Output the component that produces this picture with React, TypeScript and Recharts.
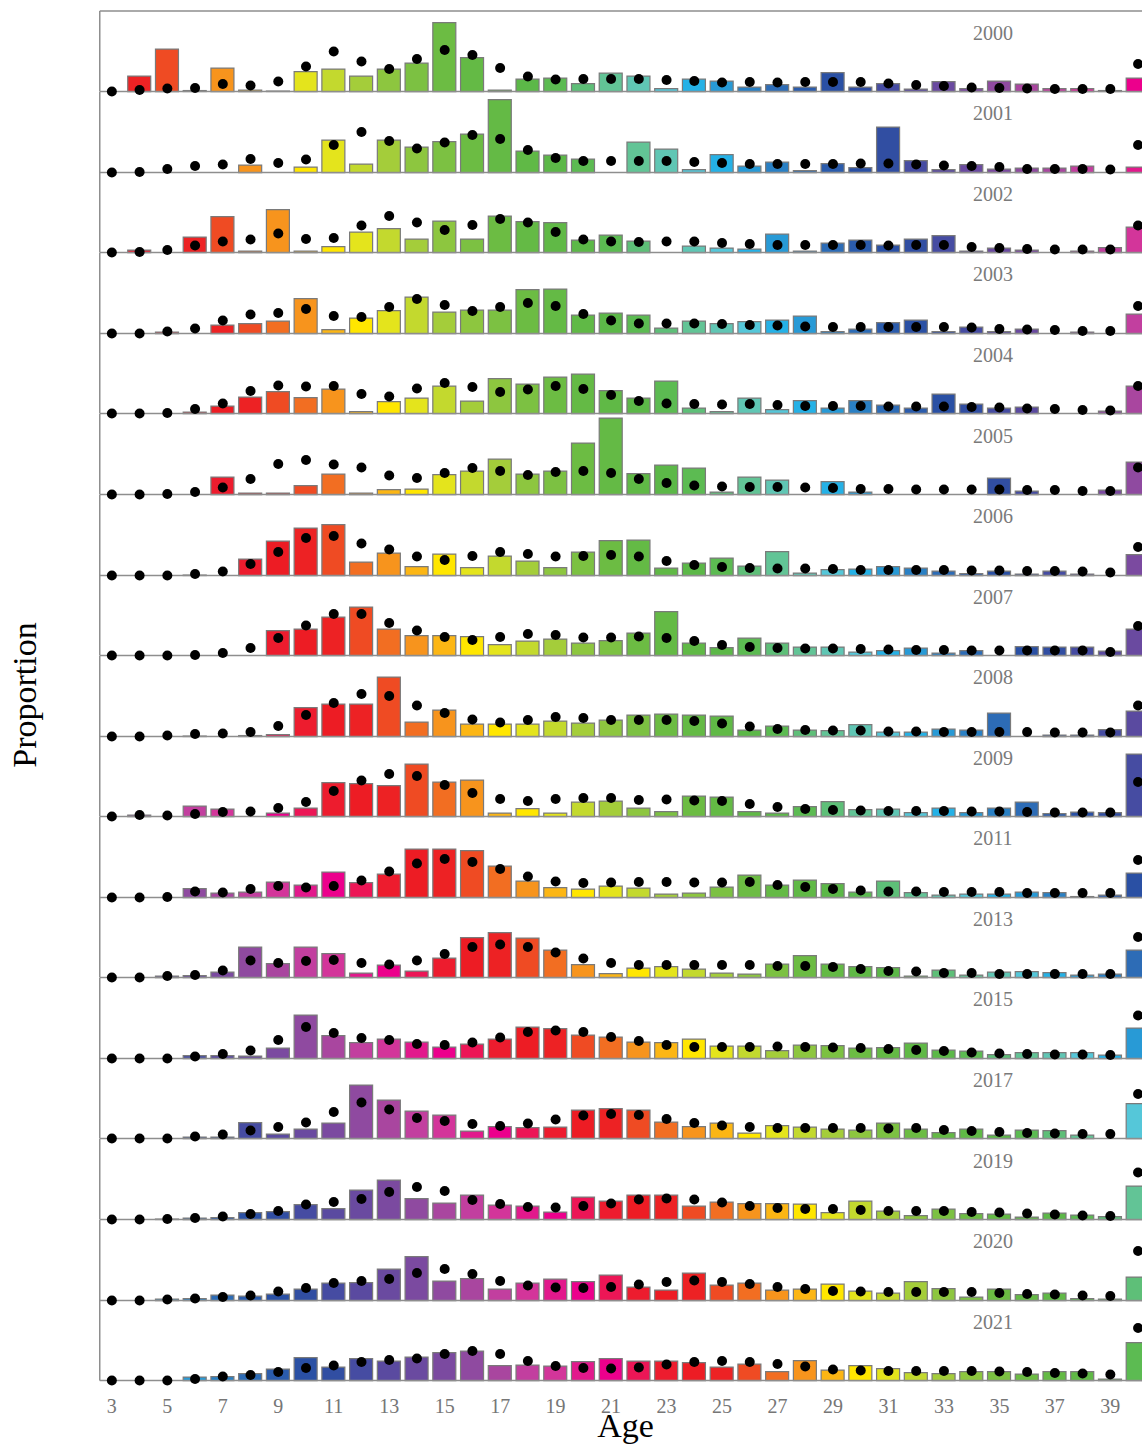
import React from 'react';
import { ComposedChart, Bar, Scatter, XAxis, YAxis, Cell, ReferenceLine } from 'recharts';

// ---------- data (proportions in %) ----------
const ages = [3, 4, 5, 6, 7, 8, 9, 10, 11, 12, 13, 14, 15, 16, 17, 18, 19, 20, 21, 22, 23, 24, 25, 26, 27, 28, 29, 30, 31, 32, 33, 34, 35, 36, 37, 38, 39, 40];
const ageTicks = [3, 5, 7, 9, 11, 13, 15, 17, 19, 21, 23, 25, 27, 29, 31, 33, 35, 37, 39];
const years = [2000, 2001, 2002, 2003, 2004, 2005, 2006, 2007, 2008, 2009, 2011, 2013, 2015, 2017, 2019, 2020, 2021];

const bars2000 = [0, 3.1, 8.5, 0.2, 4.7, 0.3, 0.1, 4.0, 4.5, 3.1, 4.5, 5.7, 13.8, 6.8, 0.3, 2.5, 2.7, 1.6, 3.7, 3.1, 0.6, 2.5, 2.1, 0.9, 1.4, 0.9, 3.8, 0.9, 1.6, 0.5, 2.0, 0.6, 2.1, 1.5, 0.6, 0.6, 0.2, 2.7];
const dots2000 = [0, 0.3, 0.6, 0.7, 1.5, 1.2, 2.0, 5.0, 8.0, 6.0, 4.5, 6.5, 8.3, 7.3, 4.7, 3.0, 2.4, 2.5, 2.5, 2.5, 2.3, 2.1, 1.8, 1.9, 1.8, 1.9, 1.9, 1.9, 1.6, 1.3, 1.1, 0.8, 0.7, 0.6, 0.5, 0.5, 0.5, 5.5];
const bars2001 = [0, 0, 0, 0, 0, 1.5, 0, 1.1, 6.5, 1.7, 6.5, 5.1, 6.2, 7.7, 14.6, 4.3, 3.5, 2.7, 0, 6.1, 4.7, 0.6, 3.6, 1.3, 2.1, 0.4, 1.8, 1.0, 9.1, 2.4, 0.6, 1.6, 0.7, 0.9, 0.9, 1.3, 0, 1.1];
const dots2001 = [0, 0.1, 0.7, 1.3, 1.6, 2.7, 1.9, 2.6, 5.5, 8.1, 6.3, 4.8, 6.0, 7.5, 6.7, 4.5, 2.9, 2.3, 2.3, 2.3, 2.3, 2.1, 1.9, 1.7, 1.7, 1.7, 1.7, 1.8, 1.8, 1.6, 1.4, 1.3, 1.1, 0.7, 0.7, 0.7, 0.6, 5.5];
const bars2002 = [0, 0.5, 0, 3.1, 7.2, 0.3, 8.6, 0.3, 1.2, 4.1, 4.8, 2.7, 6.3, 2.7, 7.3, 6.2, 6.0, 2.5, 3.5, 2.3, 0, 1.3, 0.9, 0.7, 3.7, 0.3, 1.9, 2.5, 1.5, 2.7, 3.4, 0.3, 0.9, 0.5, 0, 0.3, 1.0, 5.1];
const dots2002 = [0, 0.1, 0.5, 1.4, 2.2, 2.6, 3.8, 2.7, 2.9, 5.4, 7.3, 6.0, 4.5, 5.5, 6.7, 6.0, 4.1, 2.6, 2.2, 2.1, 2.2, 2.2, 1.9, 1.7, 1.5, 1.5, 1.5, 1.5, 1.4, 1.5, 1.5, 1.1, 0.9, 0.7, 0.6, 0.6, 0.6, 5.4];
const bars2003 = [0, 0, 0.3, 0, 1.7, 2.0, 2.5, 7.0, 0.8, 3.1, 4.6, 7.3, 4.3, 4.7, 4.7, 8.8, 8.9, 3.7, 4.1, 3.7, 1.1, 2.5, 2.0, 2.4, 2.7, 3.5, 0.4, 0.9, 2.2, 2.7, 0.4, 1.3, 0.4, 0.9, 0, 0.3, 0, 3.9];
const dots2003 = [0, 0, 0.4, 1.0, 2.6, 3.8, 4.1, 4.9, 3.5, 3.3, 5.3, 6.9, 5.7, 4.5, 5.3, 6.1, 5.5, 3.9, 2.6, 2.0, 2.0, 2.0, 1.9, 1.7, 1.6, 1.4, 1.3, 1.3, 1.3, 1.3, 1.3, 1.2, 0.9, 0.8, 0.7, 0.5, 0.5, 5.5];
const bars2004 = [0, 0, 0, 0.3, 1.5, 3.3, 4.4, 3.2, 4.9, 0.4, 2.4, 3.1, 5.5, 2.5, 7.0, 5.9, 7.3, 7.9, 4.6, 3.1, 6.5, 1.1, 0.4, 3.1, 0.8, 2.6, 1.1, 2.6, 1.7, 1.1, 3.9, 1.9, 1.1, 1.3, 0, 0, 0.5, 5.5];
const dots2004 = [0, 0, 0.1, 0.9, 2.0, 4.5, 5.6, 5.4, 5.5, 3.9, 3.4, 5.0, 6.1, 5.3, 4.3, 4.8, 5.5, 4.9, 3.7, 2.5, 2.0, 1.9, 1.8, 1.9, 1.7, 1.5, 1.5, 1.5, 1.4, 1.4, 1.4, 1.3, 1.2, 1.0, 0.9, 0.7, 0.6, 5.5];
const bars2005 = [0, 0, 0, 0, 3.5, 0.3, 0.3, 1.8, 4.1, 0.3, 1.0, 1.1, 4.0, 4.7, 7.1, 4.1, 4.7, 10.3, 15.3, 4.2, 5.9, 5.3, 0.5, 3.5, 2.9, 0, 2.6, 0.5, 0, 0, 0, 0, 3.3, 0.7, 0, 0, 0.9, 6.5];
const dots2005 = [0, 0, 0.1, 0.5, 1.4, 3.1, 6.1, 6.9, 6.0, 5.4, 3.8, 3.3, 4.3, 5.3, 4.7, 3.9, 4.5, 4.7, 4.3, 3.1, 2.3, 1.8, 1.6, 1.5, 1.5, 1.4, 1.3, 1.1, 1.1, 1.0, 1.0, 1.0, 1.0, 0.9, 0.9, 0.7, 0.7, 5.4];
const bars2006 = [0, 0, 0, 0.1, 0, 3.3, 6.9, 9.5, 10.2, 2.7, 4.5, 1.8, 4.3, 1.6, 3.9, 2.9, 1.6, 4.7, 7.0, 7.1, 1.5, 2.5, 3.5, 1.9, 4.8, 0.5, 1.2, 1.3, 1.8, 1.5, 0.9, 0.4, 0.9, 0.3, 0.9, 0.3, 0, 4.2];
const dots2006 = [0, 0, 0, 0.3, 0.8, 2.3, 4.7, 7.5, 7.9, 6.4, 5.2, 3.8, 3.1, 3.9, 4.7, 4.3, 3.8, 3.9, 4.1, 3.8, 2.9, 2.1, 1.7, 1.5, 1.4, 1.4, 1.3, 1.1, 1.1, 1.1, 1.1, 1.0, 1.0, 0.9, 0.9, 0.8, 0.6, 5.7];
const bars2007 = [0, 0, 0, 0, 0, 0, 5.0, 5.3, 7.7, 9.7, 5.3, 4.0, 4.0, 3.8, 2.2, 2.9, 3.3, 2.5, 3.0, 4.5, 8.8, 2.5, 1.6, 3.5, 2.5, 1.7, 1.7, 0.7, 1.0, 1.5, 0.5, 1.0, 0, 1.8, 1.7, 1.7, 0.9, 5.3];
const dots2007 = [0, 0, 0, 0.1, 0.5, 1.5, 3.5, 6.0, 8.3, 8.3, 6.5, 5.0, 3.7, 3.1, 3.7, 4.3, 4.1, 3.6, 3.6, 3.8, 3.5, 2.9, 2.1, 1.7, 1.5, 1.4, 1.4, 1.3, 1.2, 1.1, 1.1, 1.0, 1.0, 1.0, 1.0, 1.0, 0.7, 5.9];
const bars2008 = [0, 0, 0, 0.1, 0, 0.2, 0.4, 5.8, 6.5, 6.5, 11.9, 2.9, 5.3, 2.5, 2.5, 2.5, 3.1, 2.7, 3.3, 4.3, 4.5, 4.3, 4.1, 1.3, 2.1, 1.3, 1.2, 2.4, 0.9, 0.9, 1.5, 1.3, 4.7, 0, 0.3, 0.3, 1.4, 5.1];
const dots2008 = [0, 0, 0.2, 0.5, 0.6, 0.9, 2.1, 4.3, 6.7, 8.5, 8.1, 6.2, 4.7, 3.4, 2.8, 3.3, 3.9, 3.7, 3.3, 3.3, 3.3, 3.1, 2.6, 2.0, 1.5, 1.3, 1.2, 1.2, 1.0, 1.0, 0.9, 0.9, 0.9, 0.9, 0.8, 0.8, 0.8, 6.2];
const bars2009 = [0, 0.3, 0, 2.1, 1.5, 0, 0.7, 1.7, 6.8, 6.6, 6.2, 10.5, 6.9, 7.3, 0.7, 1.6, 0.7, 2.9, 3.1, 1.7, 1.0, 4.1, 3.9, 1.0, 0.7, 2.0, 3.0, 1.4, 1.5, 0.8, 1.7, 0.8, 1.7, 2.9, 0.6, 0.9, 0.8, 12.5];
const dots2009 = [0, 0.3, 0.2, 0.5, 0.9, 1.0, 1.7, 2.9, 5.1, 7.2, 8.5, 8.1, 6.3, 4.7, 3.5, 3.1, 3.5, 3.7, 3.7, 3.3, 3.4, 3.2, 3.1, 2.5, 1.9, 1.5, 1.3, 1.2, 1.1, 1.1, 1.1, 1.0, 1.0, 0.9, 0.8, 0.8, 0.8, 6.9];
const bars2011 = [0, 0, 0, 1.8, 0.9, 1.1, 3.1, 2.5, 5.1, 3.0, 4.7, 9.7, 9.7, 9.4, 6.3, 3.3, 2.0, 1.7, 2.3, 1.9, 0.7, 0.9, 2.1, 4.5, 2.5, 3.5, 2.8, 1.1, 3.3, 1.0, 0.5, 0.7, 0.7, 1.1, 1.0, 0.2, 0.5, 4.9];
const dots2011 = [0, 0, 0.1, 1.2, 1.0, 1.7, 2.3, 2.0, 2.3, 3.4, 5.2, 6.8, 7.7, 7.1, 5.7, 4.2, 3.2, 2.9, 3.0, 3.1, 3.1, 3.0, 3.0, 3.1, 2.5, 2.1, 1.7, 1.4, 1.2, 1.2, 1.1, 1.1, 1.1, 0.9, 0.9, 0.9, 0.9, 7.5];
const bars2013 = [0, 0, 0.3, 0.4, 1.1, 6.1, 2.8, 6.1, 4.8, 0.9, 2.5, 1.3, 3.9, 8.0, 9.0, 7.9, 5.5, 2.6, 0.8, 1.9, 2.2, 1.7, 0.9, 0.7, 2.7, 4.4, 2.7, 2.2, 2.0, 0.3, 1.5, 0.5, 1.1, 1.2, 1.0, 0.5, 0.7, 5.5];
const dots2013 = [0, 0, 0.3, 0.5, 1.4, 3.4, 2.9, 3.3, 3.5, 2.9, 2.6, 3.4, 4.7, 6.1, 6.6, 6.1, 5.0, 3.8, 2.9, 2.5, 2.5, 2.5, 2.5, 2.5, 2.3, 2.3, 2.1, 1.7, 1.3, 1.2, 0.9, 0.9, 0.7, 0.7, 0.7, 0.7, 0.7, 8.1];
const bars2015 = [0, 0, 0, 0.6, 0.6, 0.5, 2.1, 8.7, 4.6, 3.2, 3.9, 3.3, 2.3, 2.9, 3.9, 6.3, 6.0, 4.7, 4.3, 3.3, 3.2, 3.9, 2.5, 2.5, 1.6, 2.7, 2.6, 2.1, 2.2, 3.1, 1.7, 1.5, 0.8, 1.2, 1.2, 1.2, 0.7, 6.1];
const dots2015 = [0, 0, 0, 0.4, 0.9, 1.6, 3.7, 6.3, 5.1, 4.1, 3.7, 2.9, 2.7, 3.2, 4.2, 5.3, 5.6, 5.3, 4.3, 3.5, 2.7, 2.3, 2.3, 2.3, 2.4, 2.3, 2.2, 2.1, 1.9, 1.7, 1.5, 1.2, 1.0, 0.9, 0.8, 0.8, 0.7, 8.6];
const bars2017 = [0, 0, 0, 0.3, 0.3, 3.2, 0.9, 1.9, 3.1, 10.7, 7.7, 5.5, 4.7, 1.5, 2.4, 2.2, 2.3, 5.7, 6.0, 5.7, 3.3, 2.4, 3.1, 1.1, 2.6, 2.3, 1.9, 1.7, 3.1, 1.9, 1.2, 1.9, 0.7, 1.7, 1.6, 0.7, 0, 7.0];
const dots2017 = [0, 0, 0, 0.4, 0.8, 1.6, 2.3, 3.2, 5.3, 7.2, 5.8, 4.1, 3.5, 2.9, 2.5, 3.0, 3.8, 4.6, 4.9, 4.7, 3.9, 3.1, 2.6, 2.3, 2.1, 2.1, 2.1, 2.1, 2.0, 2.1, 1.7, 1.5, 1.3, 1.1, 1.0, 0.9, 0.9, 8.9];
const bars2019 = [0, 0, 0.1, 0.3, 0.4, 1.4, 1.6, 3.0, 2.2, 5.9, 7.9, 4.2, 3.3, 4.9, 2.9, 2.7, 1.5, 4.5, 3.7, 4.9, 4.9, 2.7, 3.5, 3.2, 3.2, 3.1, 1.4, 3.7, 1.7, 0.8, 2.1, 1.2, 1.1, 0.5, 1.3, 0.9, 0.6, 6.7];
const dots2019 = [0, 0, 0.1, 0.3, 0.6, 1.1, 1.7, 3.0, 3.5, 4.1, 5.5, 6.5, 5.7, 3.9, 3.1, 2.5, 2.4, 2.7, 3.2, 4.0, 4.2, 4.0, 3.4, 2.7, 2.3, 2.1, 2.1, 1.9, 1.7, 1.7, 1.7, 1.5, 1.4, 1.2, 1.0, 0.8, 0.7, 9.4];
const bars2020 = [0, 0, 0.3, 0.4, 1.1, 0.9, 1.3, 2.3, 3.5, 3.6, 6.3, 8.8, 3.9, 4.4, 2.3, 3.5, 4.3, 3.8, 5.1, 2.7, 2.1, 5.5, 3.1, 3.5, 2.1, 2.3, 3.3, 1.9, 1.5, 3.8, 2.4, 0.7, 2.3, 1.2, 1.5, 0.4, 0.3, 4.7];
const dots2020 = [0, 0, 0.2, 0.4, 0.7, 1.0, 1.8, 2.5, 3.5, 3.9, 4.3, 5.5, 6.3, 5.3, 3.9, 3.0, 2.6, 2.5, 2.7, 3.2, 3.7, 4.0, 3.7, 3.3, 2.7, 2.3, 1.9, 1.8, 1.7, 1.7, 1.7, 1.7, 1.5, 1.3, 1.2, 1.0, 0.9, 9.9];
const bars2021 = [0, 0, 0, 0.7, 0.8, 1.4, 2.3, 4.6, 2.7, 4.4, 3.9, 4.7, 5.6, 5.9, 3.0, 3.1, 2.9, 3.8, 4.4, 3.9, 3.9, 3.6, 2.7, 3.3, 1.8, 4.0, 2.1, 3.0, 2.4, 1.6, 1.4, 1.8, 1.8, 1.3, 1.8, 1.8, 0.3, 7.6];
const dots2021 = [0, 0, 0, 0.3, 0.8, 1.1, 1.7, 2.5, 3.0, 3.7, 4.1, 4.4, 5.3, 5.9, 5.3, 3.9, 2.9, 2.5, 2.4, 2.6, 3.2, 3.7, 3.9, 3.7, 3.3, 2.8, 2.2, 2.0, 1.9, 1.9, 1.9, 1.9, 1.8, 1.7, 1.5, 1.4, 1.2, 10.5];

const barSeries = [bars2000, bars2001, bars2002, bars2003, bars2004, bars2005, bars2006, bars2007, bars2008, bars2009, bars2011, bars2013, bars2015, bars2017, bars2019, bars2020, bars2021];
const dotSeries = [dots2000, dots2001, dots2002, dots2003, dots2004, dots2005, dots2006, dots2007, dots2008, dots2009, dots2011, dots2013, dots2015, dots2017, dots2019, dots2020, dots2021];

// colour per birth cohort (birth year modulo 40, starting at 1960/2000)
const cohortPalette = [
  '#ec008c', '#e2198c', '#d3359a', '#c23f9f', '#a9469f', '#8f4aa0', '#7b4aa0', '#6a4aa0',
  '#5a4aa0', '#464ca2', '#314ea2', '#2a50a4', '#2b5cac', '#2d6cb6', '#2a80c4', '#289ad6',
  '#25b1e6', '#55c7d9', '#60c6b4', '#62c496', '#5ebf78', '#5cbb52', '#5cb848', '#60b946',
  '#64ba45', '#6cbc43', '#7cc142', '#8dc63f', '#a4cd3a', '#c3d92e', '#e4e41c', '#ffe600',
  '#fcb614', '#f7941d', '#f26e22', '#ef4b23', '#ed2224', '#ed1c24', '#ed1c2e', '#ec1656',
];
const cohortColor = (birthYear: number) => cohortPalette[(((birthYear - 1960) % 40) + 40) % 40];

// ---------- layout ----------
const FONT = '"Liberation Serif", "DejaVu Serif", serif';
const LEFT = 99.7;          // x of the left axis line
const FIRST_TICK_X = 111.8; // x of age 3
const PX_PER_AGE = 27.736;
const X_LO = 3 - (FIRST_TICK_X - LEFT) / PX_PER_AGE;
const X_HI = 40.5;
const CHART_W = Math.ceil(LEFT + (X_HI - X_LO) * PX_PER_AGE);
const BASE0 = 91.7;
const STEP = 80.56;
const Y_MAX = STEP / 5;
const MT = 10;
const MB = 8;
const LAST_AXIS_H = 40;
const AXIS_GREY = '#8e8e8e';

const dotShape = (p: any) => <circle cx={p.cx} cy={p.cy} r={5} fill="#000" />;

function Panel({ index }: { index: number }) {
  const year = years[index];
  const bars = barSeries[index];
  const dots = dotSeries[index];
  const last = index === years.length - 1;
  const data = ages.map((age, i) => ({ age, bar: bars[i], dot: dots[i] }));
  const baseline = BASE0 + STEP * index;
  const top = baseline - STEP - MT;
  const height = MT + STEP + (last ? LAST_AXIS_H : MB);
  return (
    <div style={{ position: 'absolute', left: 0, top, width: CHART_W, height }}>
      <ComposedChart
        width={CHART_W}
        height={height}
        data={data}
        margin={{ top: MT, right: 0, bottom: last ? 0 : MB, left: LEFT }}
      >
        <XAxis
          type="number"
          dataKey="age"
          domain={[X_LO, X_HI]}
          hide={!last}
          ticks={ageTicks}
          interval={0}
          tick={{ fill: '#767676', fontSize: 20, fontFamily: FONT }}
          tickLine={false}
          tickMargin={12}
          axisLine={false}
          height={last ? LAST_AXIS_H : 0}
        />
        <YAxis hide width={0} domain={[0, Y_MAX]} />
        <ReferenceLine x={X_LO} stroke={AXIS_GREY} strokeWidth={1.5} />
        {index === 0 && <ReferenceLine y={Y_MAX} stroke={AXIS_GREY} strokeWidth={1.5} />}
        <Bar dataKey="bar" barSize={23} stroke="#7a7a7a" strokeWidth={1.2} isAnimationActive={false}>
          {data.map((d) => (
            <Cell key={d.age} fill={cohortColor(year - d.age)} />
          ))}
        </Bar>
        <ReferenceLine y={0} stroke={AXIS_GREY} strokeWidth={1.5} />
        <Scatter dataKey="dot" isAnimationActive={false} shape={dotShape} />
      </ComposedChart>
    </div>
  );
}

export default function App() {
  return (
    <div
      style={{
        position: 'absolute',
        left: 0,
        top: 0,
        width: 1142,
        height: 1445,
        overflow: 'hidden',
        background: '#fff',
        fontFamily: FONT,
      }}
    >
      {years.map((y, i) => (
        <Panel key={y} index={i} />
      ))}
      {years.map((y, i) => (
        <div
          key={'lbl' + y}
          style={{
            position: 'absolute',
            left: 993 - 40,
            width: 80,
            top: BASE0 + STEP * i - 59 - 10,
            height: 20,
            lineHeight: '20px',
            fontSize: 20,
            color: '#7a7a7a',
            textAlign: 'center',
          }}
        >
          {y}
        </div>
      ))}
      <div
        style={{
          position: 'absolute',
          left: 625.5 - 60,
          width: 120,
          top: 1406.5,
          fontSize: 34,
          lineHeight: 'normal',
          color: '#000',
          textAlign: 'center',
          whiteSpace: 'nowrap',
        }}
      >
        Age
      </div>
      <div
        style={{
          position: 'absolute',
          left: 25 - 110,
          top: 695 - 19,
          width: 220,
          fontSize: 34,
          lineHeight: 'normal',
          color: '#000',
          textAlign: 'center',
          whiteSpace: 'nowrap',
          transform: 'rotate(-90deg)',
        }}
      >
        Proportion
      </div>
    </div>
  );
}
